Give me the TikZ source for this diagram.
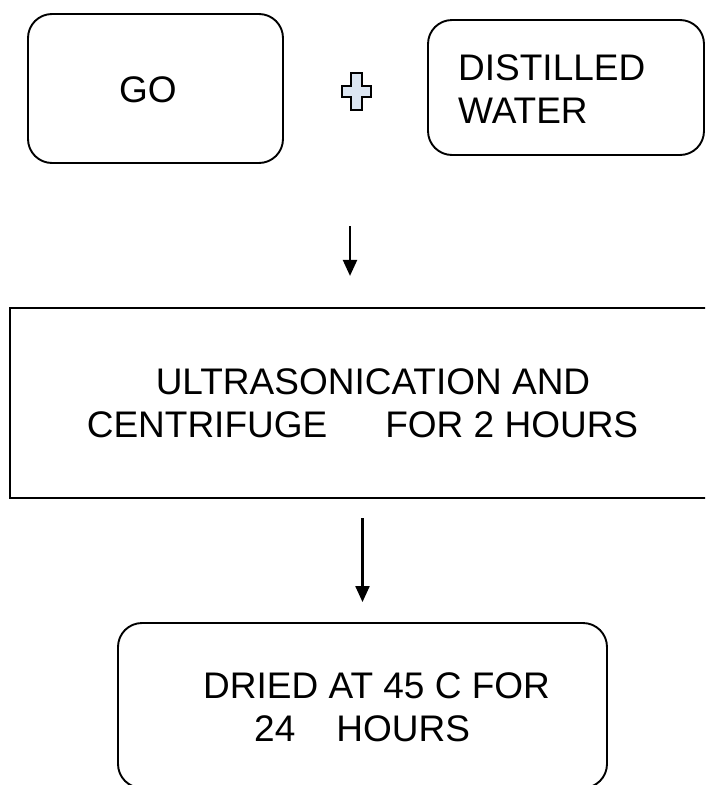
\documentclass[tikz,border=0pt]{standalone}
\usepackage{fontspec}
\setmainfont{Liberation Sans}
\usetikzlibrary{arrows.meta}
\definecolor{plusblue}{HTML}{DCE6F2}
\tikzset{
  stage/.style={draw, line width=1.9pt, inner sep=0pt},
  roundstage/.style={stage, rounded corners=24pt},
  caption/.style={inner sep=0pt, font=\fontsize{37}{43}\selectfont},
  flow/.style={line width=2.2pt, -{Triangle[length=16pt, width=14pt]}},
}
\begin{document}
\begin{tikzpicture}[x=1pt, y=-1pt]
  \useasboundingbox (0,0) rectangle (705,785);
  \clip (0,0) rectangle (705,785);
  % Starting materials.
  \node[roundstage, minimum width=255pt, minimum height=149pt] (go) at (155.5,88.5) {};
  \node[roundstage, minimum width=276pt, minimum height=135pt] (water) at (566,87.5) {};
  \node[caption, anchor=west] (golbl) at (119,89.5) {GO};
  \node[caption, anchor=west, align=left] (waterlbl) at (458,89) {DISTILLED\\WATER};
  % The plus sign between them.
  \draw[fill=plusblue, line width=1.3pt] (351,73) -- (362,73) -- (362,86) -- (371,86)
    -- (371,97) -- (362,97) -- (362,110) -- (351,110) -- (351,97) -- (342,97)
    -- (342,86) -- (351,86) -- cycle;
  % Mixing step (runs off the right edge).
  \node[stage, line width=2.2pt, minimum width=720pt, minimum height=190pt] (mix) at (370,403) {};
  \node[caption, align=center] (mixlbl) at (362.5,403)
    {\hspace*{21pt}ULTRASONICATION AND\\CENTRIFUGE\hspace{58pt}FOR 2 HOURS};
  % Drying step.
  \node[roundstage, minimum width=489pt, minimum height=165pt] (dry) at (362.5,705.5) {};
  \node[caption, anchor=west, align=left] (drylbl) at (203,707.75)
    {DRIED AT 45 C FOR\\\hspace*{51pt}24\hspace{41pt}HOURS};
  % Arrows between the steps.
  \coordinate (join) at (350,226);
  \draw[flow, shorten >=31pt] (join) -- (join |- mix.north);
  \draw[flow, shorten <=19pt, shorten >=20pt] (mix.south -| dry.north) -- (dry.north);
\end{tikzpicture}
\end{document}
